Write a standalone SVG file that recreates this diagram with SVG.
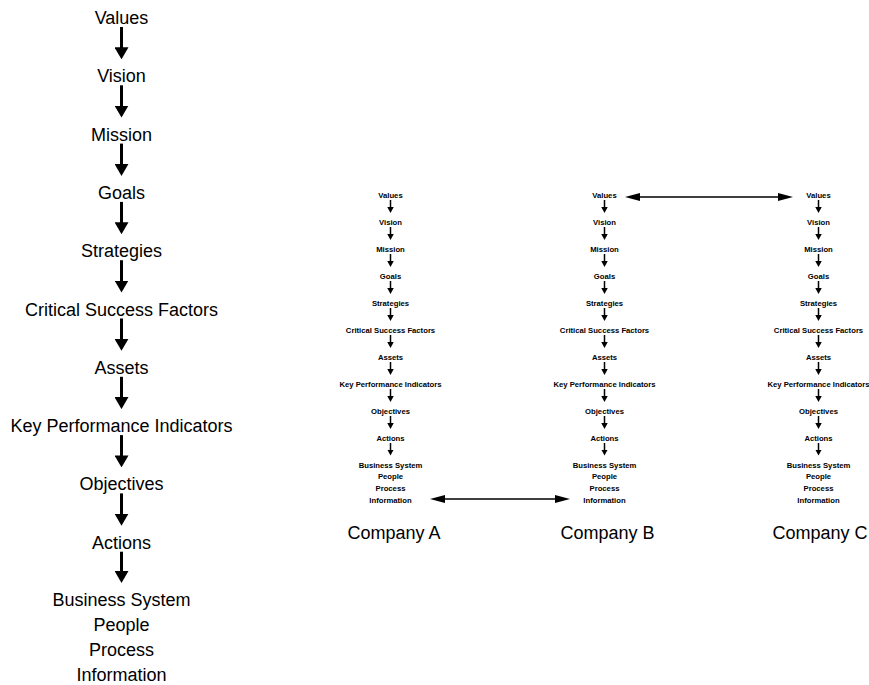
<svg xmlns="http://www.w3.org/2000/svg" width="869" height="685" viewBox="0 0 869 685">
  <style>
    text { font-family: "Liberation Sans", Arial, sans-serif; fill: #000; text-anchor: middle; }
    .big { font-size: 18px; }
    .small { font-size: 7.7px; font-weight: bold; }
    .label { font-size: 18px; }
    .flow-big { stroke: #000; stroke-width: 3; fill: none; marker-end: url(#headBig); }
    .flow-small { stroke: #000; stroke-width: 1.5; fill: none; marker-end: url(#headSmall); }
    .link { stroke: #000; stroke-width: 1.3; fill: none; marker-start: url(#headLink); marker-end: url(#headLink); }
  </style>
  <defs>
    <marker id="headBig" markerUnits="userSpaceOnUse" markerWidth="12" markerHeight="14" viewBox="0 0 12 14" refX="4" refY="7" orient="auto">
      <path d="M0,0 L12,7 L0,14 z" fill="#000"/>
    </marker>
    <marker id="headSmall" markerUnits="userSpaceOnUse" markerWidth="6" markerHeight="6.5" viewBox="0 0 6 6.5" refX="2" refY="3.25" orient="auto">
      <path d="M0,0 L6,3.25 L0,6.5 z" fill="#000"/>
    </marker>
    <marker id="headLink" markerUnits="userSpaceOnUse" markerWidth="15" markerHeight="8" viewBox="0 0 15 8" refX="5" refY="4" orient="auto-start-reverse">
      <path d="M0,0 L15,4 L0,8 z" fill="#000"/>
    </marker>
  </defs>

  <!-- Main hierarchy -->
  <g id="main">
    <g id="m-values"><text class="big" x="121.5" y="24">Values</text></g>
    <g id="m-vision"><text class="big" x="121.5" y="82.3">Vision</text></g>
    <g id="m-mission"><text class="big" x="121.5" y="140.6">Mission</text></g>
    <g id="m-goals"><text class="big" x="121.5" y="198.9">Goals</text></g>
    <g id="m-strategies"><text class="big" x="121.5" y="257.2">Strategies</text></g>
    <g id="m-csf"><text class="big" x="121.5" y="315.5">Critical Success Factors</text></g>
    <g id="m-assets"><text class="big" x="121.5" y="373.8">Assets</text></g>
    <g id="m-kpi"><text class="big" x="121.5" y="432.1">Key Performance Indicators</text></g>
    <g id="m-objectives"><text class="big" x="121.5" y="490.4">Objectives</text></g>
    <g id="m-actions"><text class="big" x="121.5" y="548.7">Actions</text></g>
    <g id="m-system"><text class="big" x="121.5" y="606">Business System<tspan x="121.5" y="631">People</tspan><tspan x="121.5" y="656">Process</tspan><tspan x="121.5" y="681">Information</tspan></text></g>
  </g>

  <!-- Company A -->
  <g id="company-a">
    <g id="a-values"><text class="small" x="390.5" y="198">Values</text></g>
    <g id="a-vision"><text class="small" x="390.5" y="225">Vision</text></g>
    <g id="a-mission"><text class="small" x="390.5" y="252">Mission</text></g>
    <g id="a-goals"><text class="small" x="390.5" y="279">Goals</text></g>
    <g id="a-strategies"><text class="small" x="390.5" y="306">Strategies</text></g>
    <g id="a-csf"><text class="small" x="390.5" y="333">Critical Success Factors</text></g>
    <g id="a-assets"><text class="small" x="390.5" y="360">Assets</text></g>
    <g id="a-kpi"><text class="small" x="390.5" y="387">Key Performance Indicators</text></g>
    <g id="a-objectives"><text class="small" x="390.5" y="414">Objectives</text></g>
    <g id="a-actions"><text class="small" x="390.5" y="441">Actions</text></g>
    <g id="a-system"><text class="small" x="390.5" y="467.5">Business System<tspan x="390.5" y="479.3">People</tspan><tspan x="390.5" y="491">Process</tspan><tspan x="390.5" y="502.7">Information</tspan></text></g>
    <g id="a-label"><text class="label" x="394" y="539">Company A</text></g>
  </g>

  <!-- Company B -->
  <g id="company-b">
    <g id="b-values"><text class="small" x="604.5" y="198">Values</text></g>
    <g id="b-vision"><text class="small" x="604.5" y="225">Vision</text></g>
    <g id="b-mission"><text class="small" x="604.5" y="252">Mission</text></g>
    <g id="b-goals"><text class="small" x="604.5" y="279">Goals</text></g>
    <g id="b-strategies"><text class="small" x="604.5" y="306">Strategies</text></g>
    <g id="b-csf"><text class="small" x="604.5" y="333">Critical Success Factors</text></g>
    <g id="b-assets"><text class="small" x="604.5" y="360">Assets</text></g>
    <g id="b-kpi"><text class="small" x="604.5" y="387">Key Performance Indicators</text></g>
    <g id="b-objectives"><text class="small" x="604.5" y="414">Objectives</text></g>
    <g id="b-actions"><text class="small" x="604.5" y="441">Actions</text></g>
    <g id="b-system"><text class="small" x="604.5" y="467.5">Business System<tspan x="604.5" y="479.3">People</tspan><tspan x="604.5" y="491">Process</tspan><tspan x="604.5" y="502.7">Information</tspan></text></g>
    <g id="b-label"><text class="label" x="607.5" y="539">Company B</text></g>
  </g>

  <!-- Company C -->
  <g id="company-c">
    <g id="c-values"><text class="small" x="818.5" y="198">Values</text></g>
    <g id="c-vision"><text class="small" x="818.5" y="225">Vision</text></g>
    <g id="c-mission"><text class="small" x="818.5" y="252">Mission</text></g>
    <g id="c-goals"><text class="small" x="818.5" y="279">Goals</text></g>
    <g id="c-strategies"><text class="small" x="818.5" y="306">Strategies</text></g>
    <g id="c-csf"><text class="small" x="818.5" y="333">Critical Success Factors</text></g>
    <g id="c-assets"><text class="small" x="818.5" y="360">Assets</text></g>
    <g id="c-kpi"><text class="small" x="818.5" y="387">Key Performance Indicators</text></g>
    <g id="c-objectives"><text class="small" x="818.5" y="414">Objectives</text></g>
    <g id="c-actions"><text class="small" x="818.5" y="441">Actions</text></g>
    <g id="c-system"><text class="small" x="818.5" y="467.5">Business System<tspan x="818.5" y="479.3">People</tspan><tspan x="818.5" y="491">Process</tspan><tspan x="818.5" y="502.7">Information</tspan></text></g>
    <g id="c-label"><text class="label" x="820" y="539">Company C</text></g>
  </g>

  <!-- Connectors -->
  <g id="connectors">
    <!-- main column -->
    <line class="flow-big" x1="121.5" y1="27" x2="121.5" y2="51.3"/>
    <line class="flow-big" x1="121.5" y1="85.3" x2="121.5" y2="109.6"/>
    <line class="flow-big" x1="121.5" y1="143.6" x2="121.5" y2="167.9"/>
    <line class="flow-big" x1="121.5" y1="201.9" x2="121.5" y2="226.2"/>
    <line class="flow-big" x1="121.5" y1="260.2" x2="121.5" y2="284.5"/>
    <line class="flow-big" x1="121.5" y1="318.5" x2="121.5" y2="342.8"/>
    <line class="flow-big" x1="121.5" y1="376.8" x2="121.5" y2="401.1"/>
    <line class="flow-big" x1="121.5" y1="435.1" x2="121.5" y2="459.4"/>
    <line class="flow-big" x1="121.5" y1="493.4" x2="121.5" y2="517.7"/>
    <line class="flow-big" x1="121.5" y1="551.7" x2="121.5" y2="575"/>

    <!-- company A -->
    <line class="flow-small" x1="390.5" y1="200" x2="390.5" y2="209"/>
    <line class="flow-small" x1="390.5" y1="227" x2="390.5" y2="236"/>
    <line class="flow-small" x1="390.5" y1="254" x2="390.5" y2="263"/>
    <line class="flow-small" x1="390.5" y1="281" x2="390.5" y2="290"/>
    <line class="flow-small" x1="390.5" y1="308" x2="390.5" y2="317"/>
    <line class="flow-small" x1="390.5" y1="335" x2="390.5" y2="344"/>
    <line class="flow-small" x1="390.5" y1="362" x2="390.5" y2="371"/>
    <line class="flow-small" x1="390.5" y1="389" x2="390.5" y2="398"/>
    <line class="flow-small" x1="390.5" y1="416" x2="390.5" y2="425"/>
    <line class="flow-small" x1="390.5" y1="443" x2="390.5" y2="451.5"/>

    <!-- company B -->
    <line class="flow-small" x1="604.5" y1="200" x2="604.5" y2="209"/>
    <line class="flow-small" x1="604.5" y1="227" x2="604.5" y2="236"/>
    <line class="flow-small" x1="604.5" y1="254" x2="604.5" y2="263"/>
    <line class="flow-small" x1="604.5" y1="281" x2="604.5" y2="290"/>
    <line class="flow-small" x1="604.5" y1="308" x2="604.5" y2="317"/>
    <line class="flow-small" x1="604.5" y1="335" x2="604.5" y2="344"/>
    <line class="flow-small" x1="604.5" y1="362" x2="604.5" y2="371"/>
    <line class="flow-small" x1="604.5" y1="389" x2="604.5" y2="398"/>
    <line class="flow-small" x1="604.5" y1="416" x2="604.5" y2="425"/>
    <line class="flow-small" x1="604.5" y1="443" x2="604.5" y2="451.5"/>

    <!-- company C -->
    <line class="flow-small" x1="818.5" y1="200" x2="818.5" y2="209"/>
    <line class="flow-small" x1="818.5" y1="227" x2="818.5" y2="236"/>
    <line class="flow-small" x1="818.5" y1="254" x2="818.5" y2="263"/>
    <line class="flow-small" x1="818.5" y1="281" x2="818.5" y2="290"/>
    <line class="flow-small" x1="818.5" y1="308" x2="818.5" y2="317"/>
    <line class="flow-small" x1="818.5" y1="335" x2="818.5" y2="344"/>
    <line class="flow-small" x1="818.5" y1="362" x2="818.5" y2="371"/>
    <line class="flow-small" x1="818.5" y1="389" x2="818.5" y2="398"/>
    <line class="flow-small" x1="818.5" y1="416" x2="818.5" y2="425"/>
    <line class="flow-small" x1="818.5" y1="443" x2="818.5" y2="451.5"/>

    <!-- links between companies -->
    <line class="link" x1="635" y1="197" x2="783" y2="197"/>
    <line class="link" x1="440" y1="499" x2="560" y2="499"/>
  </g>
</svg>
